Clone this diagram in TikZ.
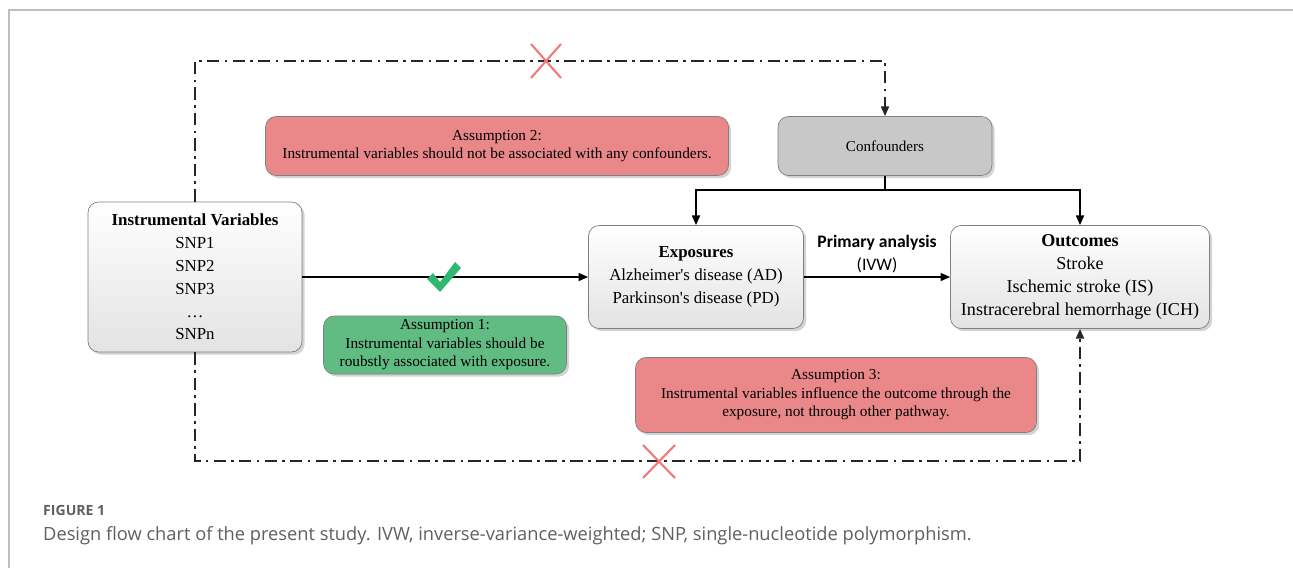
\documentclass[tikz,border=0pt]{standalone}
\usepackage{fontspec}
\setmainfont{Liberation Serif}
\newfontfamily\capfont{Open Sans}
\newfontfamily\labfont{Carlito}
\usetikzlibrary{arrows.meta,shadows,calc}

\definecolor{asmred}{RGB}{234,136,137}
\definecolor{asmgreen}{RGB}{97,188,132}
\definecolor{confgray}{RGB}{200,200,200}
\definecolor{checkgreen}{RGB}{46,184,114}
\definecolor{crossred}{RGB}{240,122,122}
\definecolor{framegray}{RGB}{190,190,190}
\definecolor{capgray}{RGB}{95,95,95}

\begin{document}
\begin{tikzpicture}[
    x=0.02cm, y=-0.02cm,
    box/.style={draw=black!50, rounded corners=6pt, align=center, inner sep=0pt,
        drop shadow={shadow xshift=1.5pt, shadow yshift=-1.5pt, opacity=0.35}},
    mainbox/.style={box, top color=white, bottom color=black!11,
        font=\fontsize{9.6}{13}\selectfont},
    asmbox/.style={box, font=\fontsize{8.7}{10.5}\selectfont},
    arr/.style={-{Triangle[length=5.5pt, width=4.5pt]}, line width=1.1pt},
    noway/.style={line width=1.1pt, black!85, dash pattern=on 7pt off 3pt on 1.5pt off 3pt},
    cross/.style={crossred, line width=1.2pt},
]

\useasboundingbox (0,0) rectangle (1293,568);

% === Frame ===
\draw[framegray, line width=0.9pt] (1293,10) -- (9,10) -- (9,568);

% === Main boxes ===
\node[mainbox, minimum width=4.28cm, minimum height=3cm] (iv) at (195,277)
    {\textbf{Instrumental Variables}\\SNP1\\SNP2\\SNP3\\\dots\\SNPn};
\node[mainbox, minimum width=4.3cm, minimum height=2.06cm] (exp) at (696,277)
    {\textbf{Exposures}\\Alzheimer\textquotesingle s disease (AD)\\Parkinson\textquotesingle s disease (PD)};
\node[mainbox, minimum width=5.18cm, minimum height=2.06cm,
    font=\fontsize{10.3}{13}\selectfont] (out) at (1080,277)
    {\textbf{Outcomes}\\Stroke\\Ischemic stroke (IS)\\Instracerebral hemorrhage (ICH)};
\node[box, fill=confgray, minimum width=4.28cm, minimum height=1.18cm,
    font=\fontsize{8.6}{11}\selectfont] (conf) at (885,146) {Confounders};

% === Assumptions ===
\node[asmbox, fill=asmred, minimum width=9.26cm, minimum height=1.18cm] (asm2) at (497,146)
    {Assumption 2:\\Instrumental variables should not be associated with any confounders.};
\node[asmbox, fill=asmgreen, minimum width=4.86cm, minimum height=1.16cm] (asm1) at (445,345)
    {Assumption 1:\\Instrumental variables should be\\roubstly associated with exposure.};
\node[asmbox, fill=asmred, minimum width=8.02cm, minimum height=1.5cm] (asm3) at (836,395)
    {Assumption 3:\\Instrumental variables influence the outcome through the\\exposure, not through other pathway.};

% === Causal path ===
\draw[arr] (iv.east) -- (exp.west);
\draw[arr] (exp.east) -- (out.west);
\node[font=\labfont\bfseries\fontsize{10}{12}\selectfont] (pa) at (877,243) {Primary analysis};
\node[font=\labfont\fontsize{10}{12}\selectfont] (ivw) at (877,265) {(IVW)};

% Confounders -> exposures / outcomes
\draw[arr] (conf.south) -- ++(0,14) -| (exp.north);
\draw[arr] (conf.south) -- ++(0,14) -| (out.north);

% === Excluded paths ===
\coordinate (tl) at (195,61);
\coordinate (bl) at (195,461);
\draw[noway, arr] (iv.north) -- (tl) -| (conf.north);
\draw[noway, arr] (iv.south) -- (bl) -| (out.south);

% crosses
\draw[cross] (531,44) -- (561,78) (531,78) -- (561,44);
\draw[cross] (643,445) -- (675,478) (643,478) -- (675,445);

% check mark
\fill[checkgreen] (427,279) -- (433,273) -- (440,282) -- (455,262) -- (461,268) -- (440,292) -- cycle;

% === Caption ===
\node[anchor=west, text=capgray, font=\capfont\bfseries\fontsize{8}{10}\selectfont] (fig) at (37,510) {FIGURE 1};
\node[anchor=west, text=capgray, font=\capfont\fontsize{10.4}{12}\selectfont] (cap) at (37,536)
    {Design flow chart of the present study. IVW, inverse-variance-weighted; SNP, single-nucleotide polymorphism.};

\end{tikzpicture}
\end{document}
